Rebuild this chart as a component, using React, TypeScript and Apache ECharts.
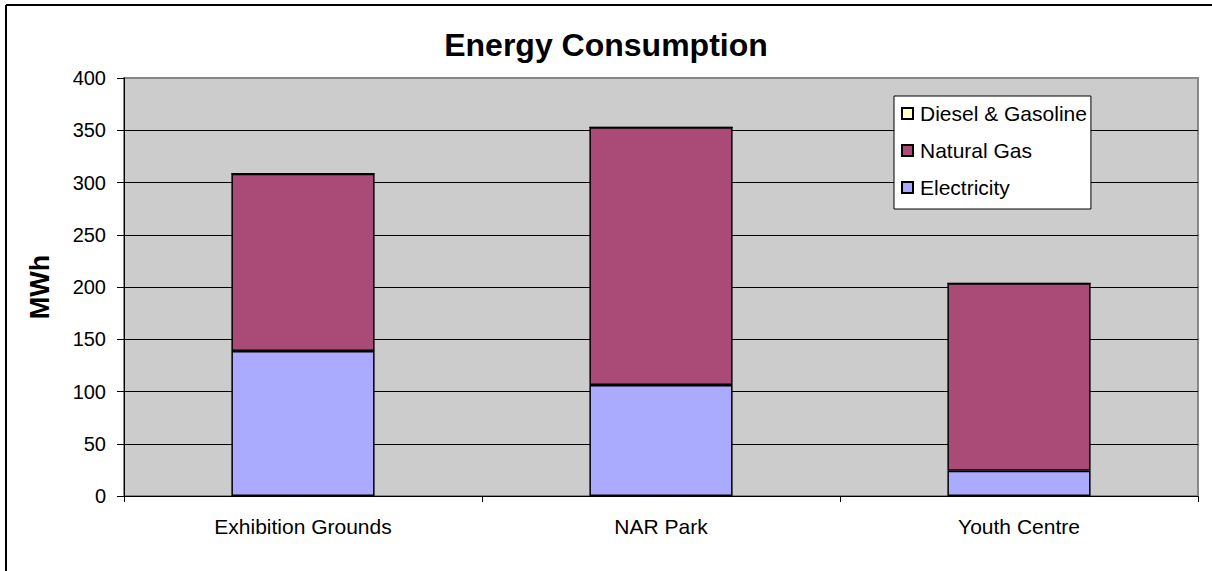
import React, { useEffect, useRef } from "react";
import * as echarts from "echarts";

const categories = ["Exhibition Grounds", "NAR Park", "Youth Centre"];
const electricity = [138.8, 106.2, 24.2];
const naturalGas = [169.6, 246.6, 179.3];
const dieselGasoline = [0, 0, 0];
const yTicks = { min: 0, max: 400, interval: 50 };

const FONT = "'Liberation Sans', Arial, sans-serif";

export default function App() {
  const ref = useRef<HTMLDivElement>(null);
  useEffect(() => {
    if (!ref.current) return;
    const chart = echarts.init(ref.current, undefined, { renderer: "svg" });
    const splitColors = ["#000", "#000", "#000", "#000", "#000", "#000", "#000", "#000", "#888888"];
    chart.setOption({
      animation: false,
      backgroundColor: "#ffffff",
      textStyle: { fontFamily: FONT },
      title: {
        text: "Energy Consumption",
        left: "center",
        top: 24,
        textStyle: { fontFamily: FONT, fontSize: 32, fontWeight: "bold", color: "#000" },
      },
      grid: {
        left: 124,
        top: 78,
        right: 14,
        bottom: 75,
        show: true,
        backgroundColor: "#CCCCCC",
        borderColor: "#888888",
        borderWidth: 2,
      },
      legend: {
        orient: "vertical",
        left: 894,
        top: 96,
        data: ["Diesel & Gasoline", "Natural Gas", "Electricity"],
        backgroundColor: "#ffffff",
        borderColor: "#000",
        borderWidth: 1,
        padding: [7, 4, 11, 7],
        itemGap: 16,
        itemWidth: 11,
        itemHeight: 11,
        icon: "rect",
        textStyle: { fontFamily: FONT, fontSize: 21, color: "#000", padding: [0, 0, 0, 2] },
        selectedMode: false,
      },
      xAxis: {
        type: "category",
        data: categories,
        axisLine: { lineStyle: { color: "#000", width: 1 } },
        axisTick: { show: true, length: 6, lineStyle: { color: "#000" } },
        axisLabel: { fontFamily: FONT, fontSize: 21, color: "#000", margin: 20 },
      },
      yAxis: {
        type: "value",
        min: yTicks.min,
        max: yTicks.max,
        interval: yTicks.interval,
        name: "MWh",
        nameLocation: "middle",
        nameGap: 71,
        nameTextStyle: { fontFamily: FONT, fontSize: 27, fontWeight: "bold", color: "#000" },
        axisLine: { show: true, lineStyle: { color: "#000", width: 1 } },
        axisTick: { show: true, length: 7, lineStyle: { color: "#000" } },
        axisLabel: { fontFamily: FONT, fontSize: 20, color: "#000", margin: 18 },
        splitLine: { show: true, lineStyle: { color: splitColors, width: 1 } },
      },
      series: [
        {
          name: "Electricity",
          type: "bar",
          stack: "total",
          data: electricity,
          barWidth: "40%",
          itemStyle: { color: "#AAAAFF", borderColor: "#000", borderWidth: 1.5 },
        },
        {
          name: "Natural Gas",
          type: "bar",
          stack: "total",
          data: naturalGas,
          barWidth: "40%",
          itemStyle: { color: "#AA4A77", borderColor: "#000", borderWidth: 1.5 },
        },
        {
          name: "Diesel & Gasoline",
          type: "bar",
          stack: "total",
          data: dieselGasoline,
          barWidth: "40%",
          itemStyle: { color: "#FFFFCC", borderColor: "#000", borderWidth: 1 },
        },
      ],
      graphic: [
        {
          type: "line",
          shape: { x1: 6, y1: 5, x2: 1212, y2: 5 },
          style: { stroke: "#000", lineWidth: 2 },
          silent: true,
        },
        {
          type: "line",
          shape: { x1: 6, y1: 5, x2: 6, y2: 571 },
          style: { stroke: "#000", lineWidth: 2 },
          silent: true,
        },
      ],
    });
    return () => chart.dispose();
  }, []);
  return (
    <div
      ref={ref}
      style={{ position: "fixed", left: 0, top: 0, width: 1212, height: 571 }}
    />
  );
}
